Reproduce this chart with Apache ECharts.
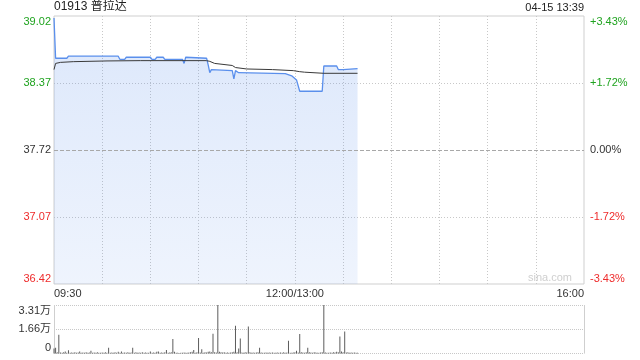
<!DOCTYPE html>
<html>
<head>
<meta charset="utf-8">
<script src="https://cdn.jsdelivr.net/npm/echarts@6/dist/echarts.min.js"></script>
<style>
html,body{margin:0;padding:0;background:#fff;}
#chart{width:640px;height:360px;}
</style>
</head>
<body>
<div id="chart"></div>
<script>
// ---- data ----
const stockTitle = '01913 普拉达';
const timeStamp = '04-15 13:39';
const prevClose = 37.72;
const priceTickLabels = ['36.42', '37.07', '37.72', '38.37', '39.02'];
const pctTickLabels = ['-3.43%', '-1.72%', '0.00%', '+1.72%', '+3.43%'];
const timeTickMinutes = [0, 150, 330];
const timeTickLabels = ['09:30', '12:00/13:00', '16:00'];
const volTickLabels = ['0', '1.66万', '3.31万'];

// price line vertices: minute index (from 09:30, lunch removed) and price
const priceMinutes = [0, 1, 8, 9, 40, 41, 44, 45, 60, 61, 63, 64, 68, 69, 80, 81, 82, 95, 96, 97, 98, 111, 112, 113, 114, 115, 144, 145, 148, 151, 153, 167, 168, 176, 177, 180, 181, 189];
const priceValues  = [39.00, 38.61, 38.61, 38.63, 38.63, 38.60, 38.60, 38.62, 38.62, 38.60, 38.60, 38.62, 38.62, 38.60, 38.60, 38.56, 38.62, 38.61, 38.545, 38.47, 38.50, 38.49, 38.41, 38.49, 38.49, 38.47, 38.46, 38.45, 38.44, 38.40, 38.29, 38.29, 38.535, 38.535, 38.50, 38.50, 38.51, 38.51];

// average price line vertices
const avgMinutes = [0, 1, 4, 12, 33, 54, 95, 97, 100, 101, 111, 113, 120, 136, 149, 153, 156, 168, 189];
const avgValues  = [38.50, 38.56, 38.57, 38.577, 38.584, 38.587, 38.587, 38.58, 38.56, 38.545, 38.54, 38.52, 38.506, 38.50, 38.49, 38.48, 38.475, 38.464, 38.464];

// volume per minute (万股), index = minute
const volumes = [
0.35,0.4,0.1,1.29,0.08,0.05,0.1,0.15,0.06,0.22,
0.05,0.08,0.06,0.1,0.05,0.07,0.15,0.05,0.08,0.06,
0.1,0.05,0.07,0.2,0.06,0.08,0.05,0.1,0.06,0.05,
0.08,0.06,0.1,0.05,0.39,0.06,0.08,0.05,0.1,0.06,
0.12,0.05,0.14,0.06,0.08,0.05,0.1,0.06,0.08,0.39,
0.06,0.1,0.05,0.08,0.06,0.1,0.05,0.07,0.06,0.05,
0.15,0.06,0.08,0.05,0.12,0.14,0.06,0.08,0.05,0.1,
0.24,0.06,0.08,0.1,1.0,0.12,0.06,0.05,0.04,0.05,
0.06,0.08,0.05,0.06,0.07,0.1,0.12,0.24,0.06,0.1,
1.07,0.08,0.3,0.06,0.1,0.08,0.12,0.15,0.1,1.36,
0.1,0.08,3.31,0.12,0.1,0.08,0.1,0.06,0.08,0.05,
0.07,0.1,0.12,1.9,0.1,0.35,1.02,0.08,0.06,0.1,
0.08,1.84,0.1,0.06,0.08,0.05,0.07,0.1,0.4,0.08,
0.06,0.05,0.08,0.06,0.07,0.05,0.08,0.06,0.05,0.07,
0.06,0.08,0.05,0.1,0.06,0.08,0.88,0.06,0.05,0.08,
0.1,0.2,0.08,1.34,0.1,0.08,0.06,0.1,0.4,0.1,
0.08,0.06,0.1,0.08,0.06,0.05,0.08,0.1,3.31,0.08,
0.06,0.05,0.08,0.06,0.1,0.08,0.12,0.1,1.16,0.15,
0.1,1.5,0.08,0.1,0.06,0.08,0.05,0.07,0.06,0.05
];

// ---- build ----
const FONT = 'Arial, "Liberation Sans", "Noto Sans CJK SC", sans-serif';
const GREEN = '#1fa31f', RED = '#ee2b2b', DARK = '#333';
const STEP = 0.65;
const pricePts = priceMinutes.map((m, i) => [m, +(priceValues[i] - prevClose).toFixed(4)]);
const avgPts = avgMinutes.map((m, i) => [m, +(avgValues[i] - prevClose).toFixed(4)]);
const volPts = volumes.map((v, i) => [i, v]);
const tickIdx = v => Math.round((+v + 2 * STEP) / STEP);
const tickColor = v => { const k = tickIdx(v); return k > 2 ? GREEN : (k < 2 ? RED : DARK); };

const chart = echarts.init(document.getElementById('chart'), null, {renderer: 'canvas'});
chart.setOption({
  animation: false,
  backgroundColor: '#fff',
  textStyle: {fontFamily: FONT},
  title: [
    {text: stockTitle, left: 54, top: 1, padding: 0,
     textStyle: {fontSize: 12, fontWeight: 'normal', color: '#222', fontFamily: FONT}},
    {text: timeStamp, right: 56, top: 2, padding: 0,
     textStyle: {fontSize: 11, fontWeight: 'normal', color: '#222', fontFamily: FONT}}
  ],
  graphic: [{
    type: 'text', right: 68, top: 272, silent: true,
    style: {text: 'sina.com', fill: '#cfcfcf', font: '11px ' + FONT}
  }],
  grid: [
    {left: 54, right: 56, top: 16, height: 268, show: true, borderColor: '#cfcfcf', borderWidth: 1},
    {left: 54, right: 56, top: 305, height: 48.6}
  ],
  xAxis: [
    {type: 'value', gridIndex: 0, min: 0, max: 330, interval: 30,
     axisLine: {show: false}, axisTick: {show: false},
     axisLabel: {
       fontSize: 11, color: DARK, margin: 4, fontFamily: FONT,
       alignMinLabel: 'left', alignMaxLabel: 'right',
       showMinLabel: true, showMaxLabel: true,
       formatter: v => { const k = timeTickMinutes.indexOf(Math.round(v)); return k >= 0 ? timeTickLabels[k] : ''; }
     },
     splitLine: {show: true, showMinLine: false, showMaxLine: false,
       lineStyle: {color: '#c8c8c8', width: 1, type: [1, 2]}}},
    {type: 'value', gridIndex: 1, min: 0, max: 330, interval: 330,
     axisLine: {show: false}, axisTick: {show: false}, axisLabel: {show: false},
     splitLine: {show: true, lineStyle: {color: '#cfcfcf', width: 1, type: 'solid'}}}
  ],
  yAxis: [
    {type: 'value', gridIndex: 0, position: 'left', min: -2 * STEP, max: 2 * STEP, interval: STEP,
     axisLine: {show: false}, axisTick: {show: false},
     axisLabel: {fontSize: 11, margin: 3, fontFamily: FONT,
       verticalAlignMaxLabel: 'top', verticalAlignMinLabel: 'bottom',
       formatter: v => priceTickLabels[tickIdx(v)], color: tickColor},
     splitLine: {show: true, showMinLine: false, showMaxLine: false,
       lineStyle: {color: '#c8c8c8', width: 1, type: [1, 2]}}},
    {type: 'value', gridIndex: 0, position: 'right', min: -2 * STEP, max: 2 * STEP, interval: STEP,
     axisLine: {show: false}, axisTick: {show: false},
     axisLabel: {fontSize: 11, margin: 6, fontFamily: FONT,
       verticalAlignMaxLabel: 'top', verticalAlignMinLabel: 'bottom',
       formatter: v => pctTickLabels[tickIdx(v)], color: tickColor},
     splitLine: {show: false}},
    {type: 'value', gridIndex: 1, min: 0, max: 3.31, interval: 1.655,
     axisLine: {show: false}, axisTick: {show: false},
     axisLabel: {fontSize: 11, margin: 3, color: DARK, fontFamily: FONT,
       verticalAlignMaxLabel: 'top', verticalAlignMinLabel: 'bottom',
       formatter: (v) => volTickLabels[Math.round(v / 1.655)]},
     splitLine: {show: true, lineStyle: {color: '#c8c8c8', width: 1, type: [1, 1]}}}
  ],
  series: [
    {type: 'line', name: 'price', xAxisIndex: 0, yAxisIndex: 0, data: pricePts,
     symbol: 'none', silent: true,
     lineStyle: {color: '#5a8fec', width: 1.3},
     areaStyle: {origin: 'start', color: new echarts.graphic.LinearGradient(0, 0, 0, 1, [
       {offset: 0, color: 'rgba(90,143,236,0.30)'},
       {offset: 1, color: 'rgba(90,143,236,0.14)'}])},
     markLine: {silent: true, symbol: 'none', label: {show: false},
       lineStyle: {color: '#a8a8a8', width: 1, type: [4, 2]},
       data: [{yAxis: 0}]},
     z: 3},
    {type: 'line', name: 'avg', xAxisIndex: 0, yAxisIndex: 0, data: avgPts,
     symbol: 'none', silent: true,
     lineStyle: {color: '#3a3a3a', width: 1}, z: 4},
    {type: 'bar', name: 'vol', xAxisIndex: 1, yAxisIndex: 2, data: volPts,
     barWidth: 1, silent: true, itemStyle: {color: '#5c5c5c'}}
  ]
});
</script>
</body>
</html>
